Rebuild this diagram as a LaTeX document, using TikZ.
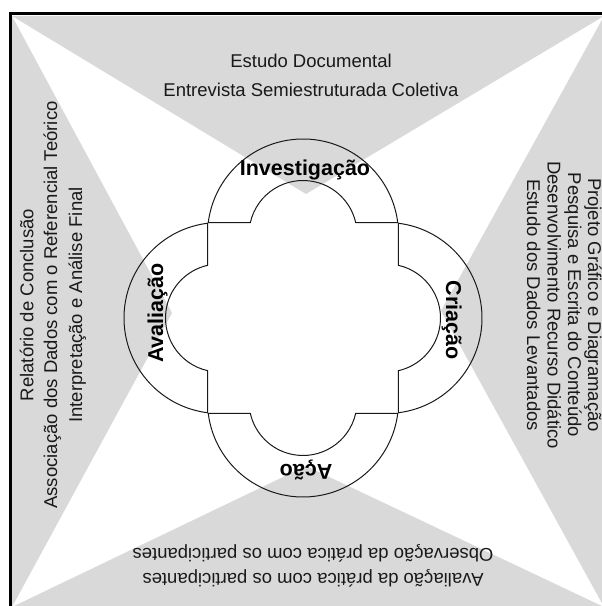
\documentclass[tikz,border=0pt]{standalone}
\usepackage{fontspec}
\setmainfont{Liberation Sans}
\definecolor{wedgegray}{HTML}{D9D9D9}

\begin{document}
\begin{tikzpicture}
[
	x	= 1pt,	% one unit is one pixel of the layout
	y	= 1pt,	% y goes up, page is 602 x 606
	%
	%
	% ----------- options for the texts --------------
	sidetext/.style =
	{
		font		= \fontsize{18.5}{22}\selectfont,
		text		= black!90,
		inner sep	= 0pt,
		anchor		= base
	},
	%
	phase/.style =
	{
		font		= \bfseries\fontsize{21.5}{26}\selectfont,
		text		= black,
		inner sep	= 0pt,
		anchor		= base
	},
	%
	% ----------- options for the shapes --------------
	greywedge/.style =
	{
		fill		= wedgegray
	},
	%
	ringline/.style =
	{
		draw		= black!90,
		line width	= 1pt
	}
]

\useasboundingbox (0,0) rectangle (602,606);
\clip (0,0) rectangle (602,606);

% corners of the frame and tips of the wedges
\coordinate (tl) at (12,590);
\coordinate (tr) at (604,590);
\coordinate (bl) at (12,-1);
\coordinate (br) at (604,-1);
\coordinate (ntip) at (306,412);
\coordinate (stip) at (306,140);
\coordinate (wtip) at (172,293);
\coordinate (etip) at (441,295);
\coordinate (ring) at (303,288);

% wedges
\fill[greywedge] (tl) -- (tr) -- (ntip) -- cycle;
\fill[greywedge] (bl) -- (br) -- (stip) -- cycle;
\fill[greywedge] (tl) -- (bl) -- (wtip) -- cycle;
\fill[greywedge] (tr) -- (br) -- (etip) -- cycle;

% frame
\draw[line width=3pt] (10.5,-10) rectangle (614,592.5);

% four arcs round the square
\foreach \ang in {0,90,180,270}
{
	\begin{scope}[shift={(ring)}, rotate=\ang, yshift=83.5]
		\draw[ringline] (7.2:95.5) arc[start angle=7.2, end angle=172.8, radius=95.5]
			-- (167.2:54) arc[start angle=167.2, end angle=12.8, radius=54] -- cycle;
	\end{scope}
}

% phases
\node[phase] (invest) at (305,430) {Investigação};
\node[phase, rotate=-90] (criacao) at (446,286) {Criação};
\node[phase, rotate=180] (acao) at (306,141) {Ação};
\node[phase, rotate=90] (avalia) at (163,293) {Avaliação};

% top
\node[sidetext] (top1) at (311,538.5) {Estudo Documental};
\node[sidetext] (top2) at (311,509.5) {Entrevista Semiestruturada Coletiva};

% right
\node[sidetext, rotate=-90] (right1) at (588,301) {Projeto Gráfico e Diagramação};
\node[sidetext, rotate=-90] (right2) at (568,301) {Pesquisa e Escrita do Conteúdo};
\node[sidetext, rotate=-90] (right3) at (547.5,301) {Desenvolvimento Recurso Didático};
\node[sidetext, rotate=-90] (right4) at (527,301) {Estudo dos Dados Levantados};

% bottom
\node[sidetext, rotate=180] (bottom1) at (313,32) {Avaliação da prática com os participantes};
\node[sidetext, rotate=180] (bottom2) at (313,57) {Observação da prática com os participantes};

% left
\node[sidetext, rotate=90] (left1) at (33.5,301) {Relatório de Conclusão};
\node[sidetext, rotate=90] (left2) at (57,301) {Associação dos Dados com o Referencial Teórico};
\node[sidetext, rotate=90] (left3) at (82,301) {Interpretação e Análise Final};

\end{tikzpicture}
\end{document}
